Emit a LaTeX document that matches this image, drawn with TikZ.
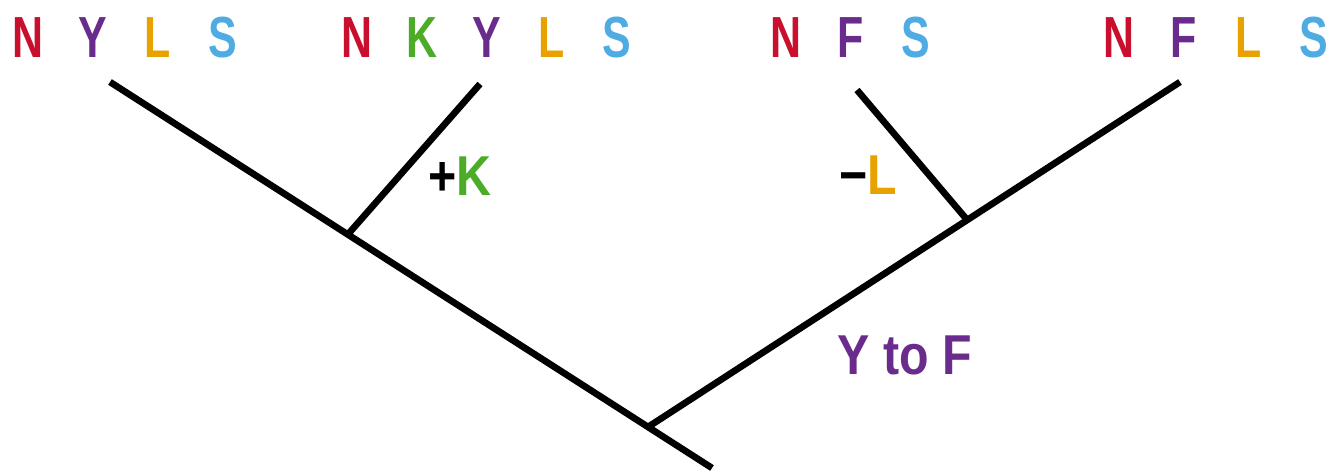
\documentclass[tikz,border=0pt]{standalone}
\usepackage{fontspec}
\usetikzlibrary{calc}
\setmainfont{Liberation Sans}
\newfontfamily\tipfont{Liberation Sans}[FakeStretch=0.74]
\newfontfamily\eventfont{Liberation Sans}[FakeStretch=0.86]

\definecolor{resN}{RGB}{200,16,46}
\definecolor{resY}{RGB}{106,44,140}
\definecolor{resL}{RGB}{232,162,0}
\definecolor{resS}{RGB}{78,172,226}
\definecolor{resK}{RGB}{76,172,40}

% one residue letter on a fixed pitch
\newcommand{\res}[2]{\makebox[1.3cm]{\color{#1}#2}}

\begin{document}
\begin{tikzpicture}[
  ramo/.style={line width=3.8pt, line cap=butt},
  folha/.style={inner sep=0pt, font=\tipfont\bfseries\fontsize{33}{40}\selectfont},
  evento/.style={inner sep=0pt, font=\eventfont\bfseries\fontsize{32}{38}\selectfont}
]
\useasboundingbox (0,0) rectangle (26.58,9.44);

% pontas e nos da arvore
\coordinate (a) at (2.2,7.8);
\coordinate (b) at (9.6,7.76);
\coordinate (c) at (17.14,7.64);
\coordinate (d) at (23.6,7.8);
\coordinate (raiz) at (12.96,0.9);
\coordinate (base) at (14.24,0.08);
\coordinate (nK) at ($(a)!0.442!(raiz)$);
\coordinate (nL) at ($(raiz)!0.6!(d)$);

\draw[ramo] (a) -- (base);
\draw[ramo] (nK) -- (b);
\draw[ramo] (raiz) -- (d);
\draw[ramo] (nL) -- (c);

% sequencias nas pontas
\node[folha] (sa) at (2.5,8.68) {\res{resN}{N}\res{resY}{Y}\res{resL}{L}\res{resS}{S}};
\node[folha] (sb) at (9.74,8.68) {\res{resN}{N}\res{resK}{K}\res{resY}{Y}\res{resL}{L}\res{resS}{S}};
\node[folha] (sc) at (17.02,8.68) {\res{resN}{N}\res{resY}{F}\res{resS}{S}};
\node[folha] (sd) at (24.32,8.68) {\res{resN}{N}\res{resY}{F}\res{resL}{L}\res{resS}{S}};

% mudancas nos ramos
\node[evento] (ganho) at (9.2,5.92) {+\textcolor{resK}{K}};
\node[evento] (perda) at (17.36,5.94) {\textminus\textcolor{resL}{L}};
\node[evento, text=resY] (troca) at (18.1,2.34) {Y to F};
\end{tikzpicture}
\end{document}
